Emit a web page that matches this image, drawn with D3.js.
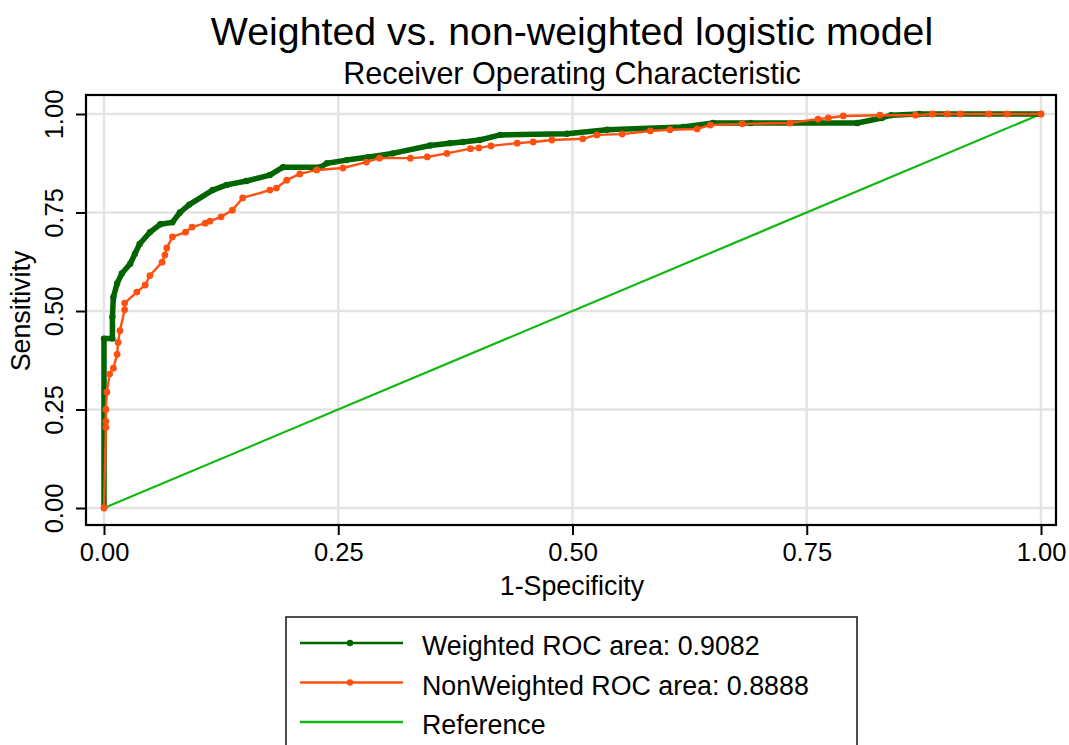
<!DOCTYPE html>
<html>
<head>
<meta charset="utf-8">
<script src="https://cdn.jsdelivr.net/npm/d3@7"></script>
<style>
  body { margin: 0; background: #fff; }
  text { font-family: "Liberation Sans", Arial, sans-serif; fill: #000; }
</style>
</head>
<body>
<div id="chart"></div>
<script>
// ROC points: [1-specificity, sensitivity]
var weighted = [
  [0, 0], [0, 0.43], [0.009, 0.43], [0.009, 0.485], [0.01, 0.535], [0.014, 0.57],
  [0.019, 0.595], [0.028, 0.62], [0.033, 0.645], [0.038, 0.67], [0.049, 0.70],
  [0.06, 0.72], [0.073, 0.725], [0.081, 0.75], [0.091, 0.77], [0.116, 0.807],
  [0.131, 0.82], [0.152, 0.83], [0.177, 0.845], [0.191, 0.865], [0.231, 0.865],
  [0.238, 0.875], [0.259, 0.883], [0.281, 0.89], [0.308, 0.90], [0.348, 0.92],
  [0.369, 0.926], [0.383, 0.929], [0.401, 0.934], [0.423, 0.947], [0.494, 0.95],
  [0.537, 0.96], [0.618, 0.967], [0.65, 0.977], [0.69, 0.977], [0.804, 0.977],
  [0.83, 0.99], [0.84, 0.997], [0.87, 1.0], [1, 1]
];
var nonWeighted = [
  [0, 0], [0.002, 0.205], [0.002, 0.22], [0.002, 0.25], [0.003, 0.294],
  [0.006, 0.34], [0.01, 0.355], [0.014, 0.39], [0.015, 0.42], [0.017, 0.45],
  [0.022, 0.503], [0.022, 0.52], [0.035, 0.548], [0.044, 0.566], [0.049, 0.59],
  [0.062, 0.624], [0.065, 0.642], [0.067, 0.66], [0.073, 0.688], [0.087, 0.70],
  [0.094, 0.713], [0.108, 0.723], [0.113, 0.728], [0.125, 0.739], [0.137, 0.756],
  [0.148, 0.787], [0.177, 0.807], [0.184, 0.812], [0.195, 0.832], [0.209, 0.848],
  [0.227, 0.858], [0.255, 0.863], [0.28, 0.878], [0.294, 0.888], [0.327, 0.888],
  [0.345, 0.891], [0.366, 0.9], [0.391, 0.912], [0.4, 0.914], [0.413, 0.919],
  [0.441, 0.926], [0.458, 0.929], [0.478, 0.934], [0.511, 0.937], [0.526, 0.947],
  [0.553, 0.949], [0.583, 0.957], [0.604, 0.96], [0.633, 0.962], [0.647, 0.972],
  [0.681, 0.975], [0.732, 0.977], [0.762, 0.987], [0.773, 0.99], [0.789, 0.995],
  [0.828, 0.997], [0.866, 0.997], [0.884, 1.0], [0.9, 1.0], [0.914, 1.0],
  [0.944, 1.0], [0.964, 1.0], [1, 1]
];
var reference = [[0, 0], [1, 1]];
var ticks = [0, 0.25, 0.5, 0.75, 1];
var legendLabels = ["Weighted ROC area: 0.9082", "NonWeighted ROC area: 0.8888", "Reference"];

var width = 1069, height = 745;
var box = {left: 86, top: 95, right: 1056, bottom: 525};
var colW = "#006400", colN = "#ff5010", colR = "#12b812";

var svg = d3.select("#chart").append("svg")
  .attr("width", width)
  .attr("height", height);

var x = d3.scaleLinear().domain([0, 1]).range([104, 1041]);
var y = d3.scaleLinear().domain([0, 1]).range([508, 114]);

/* titles */
svg.append("text")
  .attr("x", 572).attr("y", 45)
  .attr("text-anchor", "middle")
  .style("font-size", "39.3px")
  .text("Weighted vs. non-weighted logistic model");
svg.append("text")
  .attr("x", 572).attr("y", 84)
  .attr("text-anchor", "middle")
  .style("font-size", "30.5px")
  .text("Receiver Operating Characteristic");

/* grid */
var grid = svg.append("g").attr("stroke", "#e4e4e4").attr("stroke-width", 2.5);
grid.selectAll(".gx").data(ticks).enter().append("line")
  .attr("x1", d => x(d)).attr("x2", d => x(d))
  .attr("y1", box.top).attr("y2", box.bottom);
grid.selectAll(".gy").data(ticks).enter().append("line")
  .attr("y1", d => y(d)).attr("y2", d => y(d))
  .attr("x1", box.left).attr("x2", box.right);

/* axes */
var fmt = d3.format(".2f");
var xAxis = svg.append("g")
  .attr("transform", `translate(0, ${box.bottom})`)
  .call(d3.axisBottom(x).tickValues(ticks).tickFormat(fmt).tickSize(10).tickPadding(8));
xAxis.select(".domain").remove();
xAxis.selectAll("line").attr("stroke", "#000").attr("stroke-width", 2);
xAxis.selectAll("text").style("font-size", "25.5px").style("font-family", "Liberation Sans, Arial, sans-serif");

var yAxis = svg.append("g")
  .attr("transform", `translate(${box.left}, 0)`)
  .call(d3.axisLeft(y).tickValues(ticks).tickFormat(fmt).tickSize(10));
yAxis.select(".domain").remove();
yAxis.selectAll("line").attr("stroke", "#000").attr("stroke-width", 2);
yAxis.selectAll("text")
  .attr("transform", "rotate(-90)")
  .attr("x", 0).attr("y", -23).attr("dy", 0)
  .attr("text-anchor", "middle")
  .style("font-size", "25.5px").style("font-family", "Liberation Sans, Arial, sans-serif");

svg.append("text")
  .attr("x", 572).attr("y", 595)
  .attr("text-anchor", "middle")
  .style("font-size", "26.8px")
  .text("1-Specificity");
svg.append("text")
  .attr("transform", "translate(30, 311) rotate(-90)")
  .attr("text-anchor", "middle")
  .style("font-size", "26.8px")
  .text("Sensitivity");

/* lines */
var line = d3.line().x(d => x(d[0])).y(d => y(d[1]));
var plot = svg.append("g");

plot.append("path").datum(reference)
  .attr("d", line).attr("fill", "none")
  .attr("stroke", colR).attr("stroke-width", 2.2);

plot.append("path").datum(weighted)
  .attr("d", line).attr("fill", "none")
  .attr("stroke", colW).attr("stroke-width", 5.5)
  .attr("stroke-linejoin", "round");
plot.selectAll(".pw").data(weighted).enter().append("circle")
  .attr("cx", d => x(d[0])).attr("cy", d => y(d[1]))
  .attr("r", 3.2).attr("fill", colW);

plot.append("path").datum(nonWeighted)
  .attr("d", line).attr("fill", "none")
  .attr("stroke", colN).attr("stroke-width", 2.4)
  .attr("stroke-linejoin", "round");
plot.selectAll(".pn").data(nonWeighted).enter().append("circle")
  .attr("cx", d => x(d[0])).attr("cy", d => y(d[1]))
  .attr("r", 3.4).attr("fill", colN);

/* frame */
svg.append("rect")
  .attr("x", box.left).attr("y", box.top)
  .attr("width", box.right - box.left).attr("height", box.bottom - box.top)
  .attr("fill", "none").attr("stroke", "#000").attr("stroke-width", 2.2);

/* legend */
var legend = svg.append("g");
legend.append("rect")
  .attr("x", 286).attr("y", 617).attr("width", 571).attr("height", 150)
  .attr("fill", "none").attr("stroke", "#222").attr("stroke-width", 1.6);

var legendColors = [colW, colN, colR];
var rows = legend.selectAll(".row").data(legendLabels).enter().append("g")
  .attr("transform", (d, i) => `translate(0, ${643 + i * 39.5})`);
rows.append("line")
  .attr("x1", 300).attr("x2", 403).attr("y1", 0).attr("y2", 0)
  .attr("stroke", (d, i) => legendColors[i]).attr("stroke-width", 2.5);
rows.filter((d, i) => i < 2).append("circle")
  .attr("cx", 350).attr("cy", 0).attr("r", 3.2)
  .attr("fill", (d, i) => legendColors[i]);
rows.append("text")
  .attr("x", 422).attr("y", 12)
  .style("font-size", "26.8px")
  .text(d => d);
</script>
</body>
</html>
